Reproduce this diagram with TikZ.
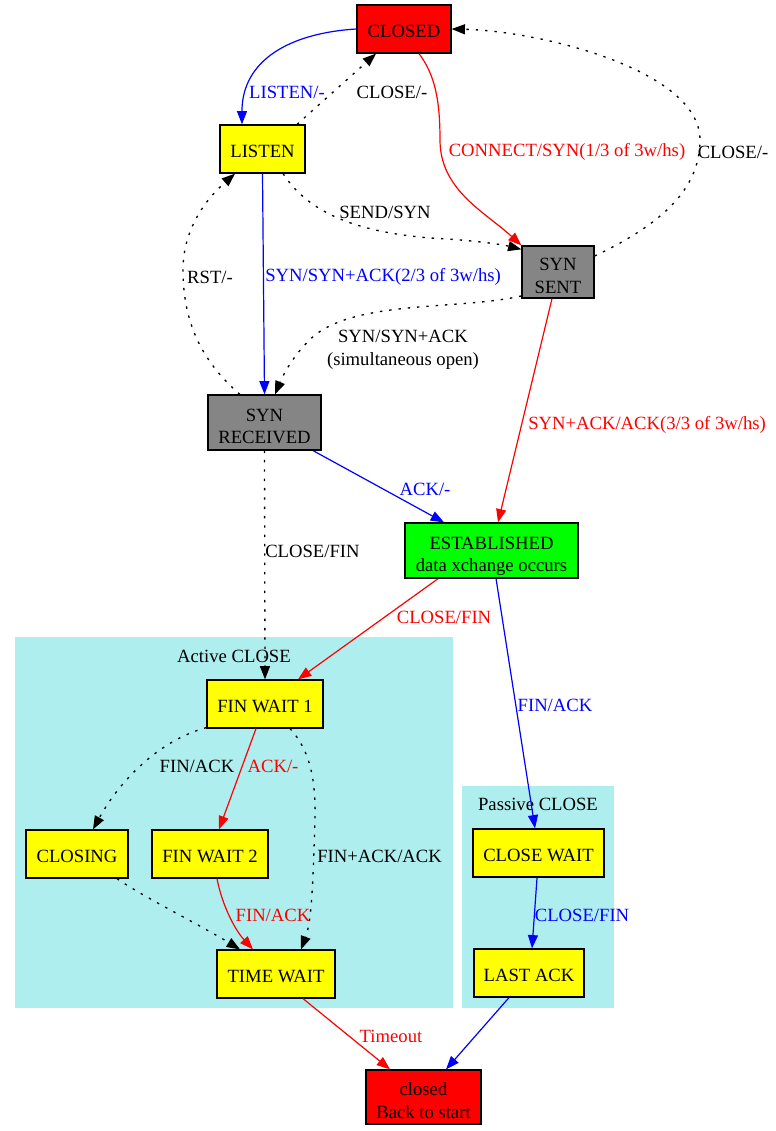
\documentclass[tikz,border=0pt]{standalone}
\usepackage{fontspec}
\setmainfont{Liberation Serif}
\usetikzlibrary{arrows.meta}
\definecolor{clusterfill}{HTML}{AFEEEE}
\definecolor{stategray}{HTML}{858585}
\definecolor{stategreen}{HTML}{00FF00}
\definecolor{stateyellow}{HTML}{FFFF00}
\definecolor{statered}{HTML}{FF0000}
\definecolor{edgeblue}{HTML}{0000FF}
\begin{document}
\begin{tikzpicture}[x=0.75pt,y=-0.75pt,
  font=\fontsize{14pt}{17pt}\selectfont,
  state/.style={draw=black, line width=0.9pt, inner sep=0pt, minimum height=36pt, align=center,
    text height=13.1pt, text depth=0pt},
  statetwo/.style={state, text height=32.2pt, text depth=0pt},
  edge/.style={line width=0.9pt, -{Triangle[length=10pt,width=7.5pt]}},
  dots/.style={edge, line width=1pt, dash pattern=on 1.8pt off 5.2pt},
  lbl/.style={inner sep=0pt, align=center}]
\useasboundingbox (0,0) rectangle (775,1131);

% clusters
\fill[clusterfill] (15,637) rectangle (453,1008);
\fill[clusterfill] (462,786) rectangle (614,1008);
\node[lbl] (activeT) at (234,656) {Active CLOSE};
\node[lbl] (passiveT) at (538,804) {Passive CLOSE};

% states
\node[state, fill=statered, minimum width=70.5pt] (closed) at (404,29) {CLOSED};
\node[state, fill=stateyellow, minimum width=63.75pt] (listen) at (262.5,149) {LISTEN};
\node[statetwo, fill=stategray, minimum width=54pt, minimum height=39pt] (synsent) at (558,272) {SYN\\SENT};
\node[statetwo, fill=stategray, minimum width=84.75pt, minimum height=41.25pt] (synrcvd) at (264.5,422.5) {SYN\\RECEIVED};
\node[statetwo, fill=stategreen, minimum width=129.75pt, minimum height=41.25pt] (estab) at (491.5,550.5) {ESTABLISHED\\data xchange occurs};
\node[state, fill=stateyellow, minimum width=87pt] (fw1) at (265,704) {FIN WAIT 1};
\node[state, fill=stateyellow, minimum width=76.5pt] (closing) at (77,854) {CLOSING};
\node[state, fill=stateyellow, minimum width=87pt] (fw2) at (210,854) {FIN WAIT 2};
\node[state, fill=stateyellow, minimum width=88.5pt] (timewait) at (276,974) {TIME WAIT};
\node[state, fill=stateyellow, minimum width=98.25pt] (closewait) at (538.5,853) {CLOSE WAIT};
\node[state, fill=stateyellow, minimum width=82.5pt] (lastack) at (529,973) {LAST ACK};
\node[statetwo, fill=statered, minimum width=86.25pt, minimum height=40.5pt] (closed2) at (423.5,1097) {closed\\Back to start};

% transitions
\draw[edge, edgeblue] (closed.west) .. controls (290,33) and (242,60) .. ([xshift=-15.4pt]listen.north);
\node[lbl, text=edgeblue] (lListen) at (287,92) {LISTEN/-};

\draw[dots] ([xshift=25.9pt]listen.north) -- ([xshift=-21pt]closed.south);
\node[lbl] (lClose1) at (392,92) {CLOSE/-};

\draw[edge, statered] ([xshift=11.25pt]closed.south) .. controls (435,75) and (440,100) .. (440,140)
  .. controls (440,190) and (485,212) .. (synsent.north west);
\node[lbl, text=statered] (lConnect) at (567,152) {CONNECT/SYN(1/3 of 3w/hs)};

\draw[dots] ([yshift=12pt]synsent.east) .. controls (660,225) and (700,190) .. (700,140)
  .. controls (700,70) and (540,31) .. (closed.east);
\node[lbl] (lClose2) at (733,152) {CLOSE/-};

\draw[dots] ([xshift=15.4pt]listen.south) .. controls (310,215) and (360,232) .. (430,238)
  .. controls (470,240) and (500,244) .. ([yshift=-3pt]synsent.north west);
\node[lbl] (lSend) at (385,212) {SEND/SYN};

\draw[edge, edgeblue] (listen.south) -- (synrcvd.north);
\node[lbl, text=edgeblue, anchor=west] (lSynAck) at (265,277) {SYN/SYN+ACK(2/3 of 3w/hs)};

\draw[dots] ([xshift=-18.4pt]synrcvd.north) .. controls (200,360) and (183,320) .. (183,270)
  .. controls (183,230) and (205,200) .. ([xshift=-20.6pt]listen.south);
\node[lbl] (lRst) at (210,277) {RST/-};

\draw[dots] ([yshift=2pt]synsent.south west) .. controls (460,310) and (360,300) .. (315,335)
  .. controls (295,352) and (283,375) .. ([xshift=7.9pt]synrcvd.north);
\node[lbl] (lSimul) at (403,350) {SYN/SYN+ACK\\(simultaneous open)};

\draw[edge, statered] ([xshift=-4.5pt]synsent.south) -- ([xshift=4.9pt]estab.north);
\node[lbl, text=statered, anchor=west] (lSynAckAck) at (528,425) {SYN+ACK/ACK(3/3 of 3w/hs)};

\draw[edge, edgeblue] ([xshift=36.4pt]synrcvd.south) -- ([xshift=-35.6pt]estab.north);
\node[lbl, text=edgeblue] (lAck1) at (425,489) {ACK/-};

\draw[dots] (synrcvd.south) -- (fw1.north);
\node[lbl, anchor=west] (lCloseFin1) at (265,551) {CLOSE/FIN};

\draw[edge, statered] ([xshift=-40pt]estab.south) -- ([xshift=24.75pt]fw1.north);
\node[lbl, text=statered] (lCloseFin2) at (444,617) {CLOSE/FIN};

\draw[edge, edgeblue] ([xshift=3.4pt]estab.south) -- ([xshift=-2.6pt]closewait.north);
\node[lbl, text=edgeblue] (lFinAck1) at (555,705) {FIN/ACK};

\draw[dots] ([yshift=0.75pt]fw1.south west) .. controls (160,740) and (120,780) .. ([xshift=12pt]closing.north);
\node[lbl] (lFinAck2) at (197,766) {FIN/ACK};

\draw[edge, statered] ([xshift=-6.75pt]fw1.south) -- ([xshift=6.75pt]fw2.north);
\node[lbl, text=statered] (lAck2) at (273,766) {ACK/-};

\draw[dots] ([xshift=18.75pt]fw1.south) .. controls (310,750) and (316,780) .. (315,820)
  .. controls (313,880) and (312,920) .. ([xshift=18.75pt]timewait.north);
\node[lbl, anchor=west] (lFinAckAck) at (317,856) {FIN+ACK/ACK};

\draw[dots] ([xshift=30pt]closing.south) .. controls (140,895) and (200,925) .. ([xshift=-27pt]timewait.north);

\draw[edge, statered] ([xshift=5.25pt]fw2.south) .. controls (222,905) and (235,930) .. ([xshift=-17.25pt]timewait.north);
\node[lbl, text=statered] (lFinAck3) at (273,915) {FIN/ACK};

\draw[edge, statered] ([xshift=20.25pt]timewait.south) -- ([xshift=-25.1pt]closed2.north);
\node[lbl, text=statered] (lTimeout) at (391,1036) {Timeout};

\draw[edge, edgeblue] ([xshift=-1.1pt]closewait.south) -- ([xshift=2.25pt]lastack.north);
\node[lbl, text=edgeblue] (lCloseFin3) at (582,915) {CLOSE/FIN};

\draw[edge, edgeblue] ([xshift=-15pt]lastack.south) -- ([xshift=16.9pt]closed2.north);
\end{tikzpicture}
\end{document}
